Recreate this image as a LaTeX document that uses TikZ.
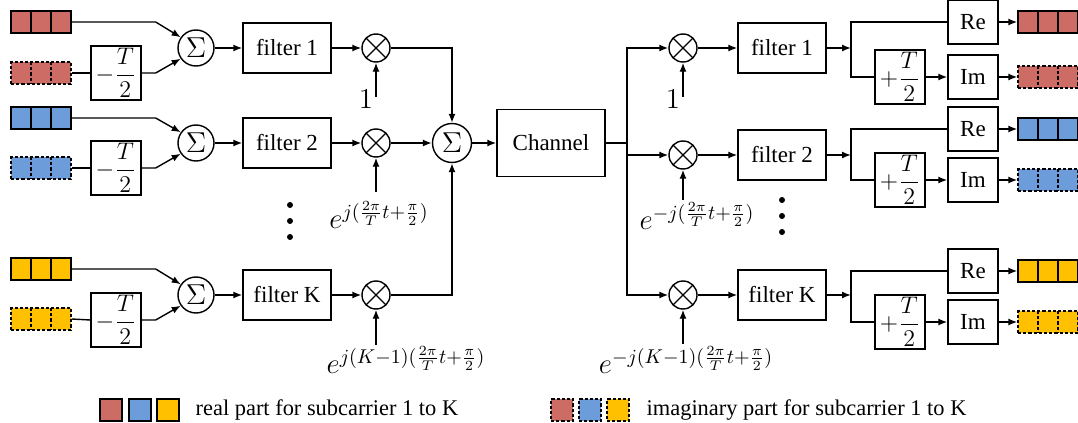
\documentclass[tikz,border=0pt]{standalone}
\usepackage{fontspec}
\setmainfont{Liberation Serif}
\usetikzlibrary{arrows.meta,calc}
\definecolor{redc}{RGB}{205,108,100}
\definecolor{bluec}{RGB}{108,156,218}
\definecolor{yelc}{RGB}{255,192,0}
\begin{document}
\begin{tikzpicture}[x=0.5pt,y=-0.5pt, line width=0.7pt,
  box/.style={draw, inner sep=0pt, font=\fontsize{11.5}{13}\selectfont},
  fbox/.style={box, minimum width=44pt, minimum height=25pt},
  tbox/.style={box, minimum width=25pt, minimum height=27pt},
  ribox/.style={box, minimum width=25pt, minimum height=22pt},
  sumc/.style={draw, circle, inner sep=0pt, minimum size=18pt, font=\fontsize{15}{16}\selectfont},
  mult/.style={draw, circle, inner sep=0pt, minimum size=14pt,
    path picture={\draw (path picture bounding box.north west) -- (path picture bounding box.south east)
      (path picture bounding box.north east) -- (path picture bounding box.south west);}},
  arr/.style={-{Latex[length=4.5pt,width=3.5pt]}},
  dshd/.style={dash pattern=on 1.6pt off 1pt},
  datab/.style args={#1 and #2}{draw, fill=#1, #2, inner sep=0pt, minimum width=30pt, minimum height=11pt,
    path picture={\draw[#2]
      ($(path picture bounding box.north west)!1/3!(path picture bounding box.north east)$) --
      ($(path picture bounding box.south west)!1/3!(path picture bounding box.south east)$)
      ($(path picture bounding box.north west)!2/3!(path picture bounding box.north east)$) --
      ($(path picture bounding box.south west)!2/3!(path picture bounding box.south east)$);}},
  lsq/.style args={#1 and #2}{draw, fill=#1, #2, inner sep=0pt, minimum size=11pt},
  expl/.style={inner sep=0pt, font=\fontsize{14}{16}\selectfont},
  vdot/.style={circle, fill, inner sep=0pt, minimum size=3pt},
  legtxt/.style={inner sep=0pt, anchor=west, font=\fontsize{11.2}{13}\selectfont}
]
\useasboundingbox (0,0) rectangle (1078,423);

% ---------- left: row 1
\node[datab=redc and solid] (r1) at (41,22) {};
\node[datab=redc and dshd] (d1) at (41,73) {};
\node[tbox] (t1) at (116,73) {$\displaystyle -\frac{T}{2}$};
\node[sumc] (s1) at (196,48) {$\Sigma$};
\node[fbox] (f1) at (287,48) {filter 1};
\node[mult] (m1) at (376,48) {};
\node[expl] (one1) at (366,99) {$1$};
\coordinate (in1) at (376,97);
% row 2
\node[datab=bluec and solid] (r2) at (41,118) {};
\node[datab=bluec and dshd] (d2) at (41,168) {};
\node[tbox] (t2) at (116,168) {$\displaystyle -\frac{T}{2}$};
\node[sumc] (s2) at (196,143) {$\Sigma$};
\node[fbox] (f2) at (287,143) {filter 2};
\node[mult] (m2) at (376,143) {};
\node[expl] (e2) at (379,215) {$e^{j(\frac{2\pi}{T}t+\frac{\pi}{2})}$};
\coordinate (in2) at (376,192);
% row K
\node[datab=yelc and solid] (rK) at (41,269) {};
\node[datab=yelc and dshd] (dK) at (41,319) {};
\node[tbox] (tK) at (116,320) {$\displaystyle -\frac{T}{2}$};
\node[sumc] (sK) at (196,295) {$\Sigma$};
\node[fbox] (fK) at (287,295) {filter K};
\node[mult] (mK) at (376,295) {};
\node[expl] (eK) at (406,360) {$e^{j(K-1)(\frac{2\pi}{T}t+\frac{\pi}{2})}$};
\coordinate (inK) at (376,345);

\foreach \r/\d/\t/\s/\f/\m/\i in {r1/d1/t1/s1/f1/m1/in1, r2/d2/t2/s2/f2/m2/in2, rK/dK/tK/sK/fK/mK/inK}{
  \draw[arr] (\r.east) -- ++(84,0) -- (\s.145);
  \draw (\d.east) -- (\t.west);
  \draw[arr] (\t.east) -- ++(14,0) -- (\s.215);
  \draw[arr] (\s.east) -- (\f.west);
  \draw[arr] (\f.east) -- (\m.west);
  \draw[arr] (\i) -- (\m.south);
}
\node[vdot] (ld1) at (290,205) {};
\node[vdot] (ld2) at (290,221) {};
\node[vdot] (ld3) at (290,237) {};

% ---------- middle
\node[sumc, minimum size=19.5pt] (S) at (452,143) {$\Sigma$};
\draw[arr] (m1.east) -| (S.north);
\draw[arr] (m2.east) -- (S.west);
\draw[arr] (mK.east) -| (S.south);
\node[box, minimum width=54pt, minimum height=33.5pt] (ch) at (551,143) {Channel};
\draw[arr] (S.east) -- (ch.west);
\coordinate (sp) at (627,143);
\draw (ch.east) -- (sp);

% ---------- right
\node[mult] (rm1) at (683,48) {};
\node[mult] (rm2) at (683,155) {};
\node[mult] (rmK) at (683,295) {};
\draw (sp) -- (627,48);
\draw (sp) -- (627,295);
\draw[arr] (sp) |- (rm1.west);
\draw[arr] (sp) |- (rm2.west);
\draw[arr] (sp) |- (rmK.west);
\node[expl] (one2) at (673,99) {$1$};
\coordinate (rin1) at (683,97);
\node[expl] (re2l) at (697,216) {$e^{-j(\frac{2\pi}{T}t+\frac{\pi}{2})}$};
\coordinate (rin2) at (683,200);
\node[expl] (reKl) at (686,360) {$e^{-j(K-1)(\frac{2\pi}{T}t+\frac{\pi}{2})}$};
\coordinate (rinK) at (683,344);
\node[fbox] (rf1) at (782,48) {filter 1};
\node[fbox] (rf2) at (782,155) {filter 2};
\node[fbox] (rfK) at (782,295) {filter K};
\node[vdot] (rd1) at (782,200) {};
\node[vdot] (rd2) at (782,216) {};
\node[vdot] (rd3) at (782,232) {};

\coordinate (b1) at (851,48);
\node[ribox] (re1) at (973,22) {Re};
\node[tbox] (pt1) at (900,77) {$\displaystyle +\frac{T}{2}$};
\node[ribox] (im1) at (973,77) {Im};
\node[datab=redc and solid] (o1) at (1048,22) {};
\node[datab=redc and dshd] (oi1) at (1048,77) {};

\coordinate (b2) at (851,155);
\node[ribox] (re2) at (973,129) {Re};
\node[tbox] (pt2) at (900,180) {$\displaystyle +\frac{T}{2}$};
\node[ribox] (im2) at (973,180) {Im};
\node[datab=bluec and solid] (o2) at (1048,129) {};
\node[datab=bluec and dshd] (oi2) at (1048,180) {};

\coordinate (bK) at (851,295);
\node[ribox] (reK) at (973,271) {Re};
\node[tbox] (ptK) at (900,322) {$\displaystyle +\frac{T}{2}$};
\node[ribox] (imK) at (973,322) {Im};
\node[datab=yelc and solid] (oK) at (1048,271) {};
\node[datab=yelc and dshd] (oiK) at (1048,322) {};

\foreach \m/\i/\f/\b/\re/\pt/\im/\o/\oi in {rm1/rin1/rf1/b1/re1/pt1/im1/o1/oi1, rm2/rin2/rf2/b2/re2/pt2/im2/o2/oi2, rmK/rinK/rfK/bK/reK/ptK/imK/oK/oiK}{
  \draw[arr] (\i) -- (\m.south);
  \draw[arr] (\m.east) -- (\f.west);
  \draw[arr] (\f.east) -- (\b);
  \draw (\b) |- (\re.west);
  \draw (\b) |- (\pt.west);
  \draw[arr] (\pt.east) -- (\im.west);
  \draw[arr] (\re.east) -- (\o.west);
  \draw[arr] (\im.east) -- (\oi.west);
}

% ---------- legend
\node[lsq=redc and solid] (lr1) at (111,410) {};
\node[lsq=bluec and solid] (lr2) at (140,410) {};
\node[lsq=yelc and solid] (lr3) at (168,410) {};
\node[legtxt] (lt1) at (195,410) {real part for subcarrier 1 to K};
\node[lsq=redc and dshd] (li1) at (562,410) {};
\node[lsq=bluec and dshd] (li2) at (590,410) {};
\node[lsq=yelc and dshd] (li3) at (618,410) {};
\node[legtxt] (lt2) at (646,410) {imaginary part for subcarrier 1 to K};
\end{tikzpicture}
\end{document}
